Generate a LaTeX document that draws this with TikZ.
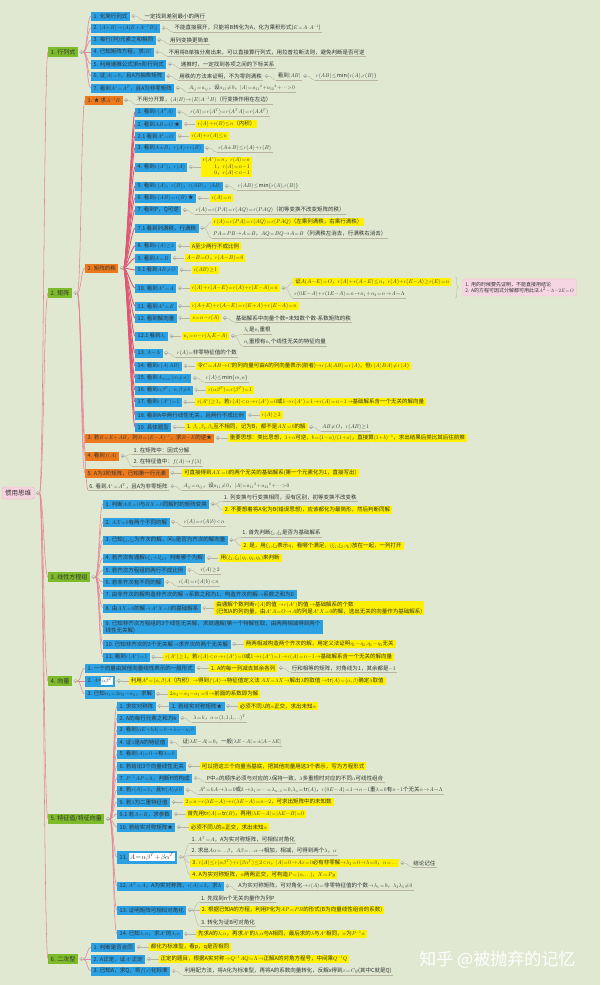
\documentclass[tikz,border=0pt]{standalone}
\usepackage{fontspec}
\setmainfont{Noto Sans CJK SC}
\usetikzlibrary{positioning,decorations.pathreplacing}
% math glyphs scaled from the 10pt designs, so small formulas stay narrow
\DeclareFontShape{OT1}{cmr}{m}{n}{<->cmr10}{}
\DeclareFontShape{OML}{cmm}{m}{it}{<->cmmi10}{}
\DeclareFontShape{OMS}{cmsy}{m}{n}{<->cmsy10}{}

\definecolor{bg}{HTML}{E1E8D1}
\definecolor{rootpink}{HTML}{F7D3E0}
\definecolor{branchgreen}{HTML}{7DBB2A}
\definecolor{topicblue}{HTML}{2BA0E2}
\definecolor{topicorange}{HTML}{EC7A1C}
\definecolor{hlyellow}{HTML}{FFF100}
\definecolor{linkred}{HTML}{DE5876}
\definecolor{linkgray}{HTML}{B9B3A2}
\definecolor{notepink}{HTML}{F6D6E2}

\tikzset{
  every node/.style={anchor=west, inner sep=1.2pt, text=black!80, font=\fontsize{5.5}{6.5}\selectfont},
  rootbox/.style={fill=rootpink, draw=linkred!50, rounded corners=1.5pt, inner xsep=3pt, minimum height=12pt, font=\fontsize{6.5}{7.5}\selectfont},
  branchbox/.style={fill=branchgreen, inner xsep=2.5pt, minimum height=10pt, font=\fontsize{6}{7}\selectfont},
  bluebox/.style={fill=topicblue, inner xsep=2.5pt, minimum height=9pt},
  orangebox/.style={fill=topicorange, inner xsep=2.5pt, minimum height=9pt},
  hlbox/.style={fill=hlyellow, inner xsep=2pt, minimum height=8pt},
  leaf/.style={append after command={(\tikzlastnode.south west) edge[draw=linkgray, line width=0.35pt] (\tikzlastnode.south east)}},
  notebox/.style={fill=notepink, draw=linkred!35, rounded corners=3pt, align=left, inner sep=3pt, font=\fontsize{5}{6.5}\selectfont},
  toplink/.style={draw=linkred!75, line width=0.55pt},
  ranklink/.style={draw=linkred, line width=0.9pt},
  sublink/.style={draw=linkgray, line width=0.35pt},
}

\newcommand{\wbox}[1]{{\setlength{\fboxsep}{0.8pt}\colorbox{white}{#1}}}

\begin{document}
\thinmuskip=1mu
\medmuskip=1mu
\thickmuskip=1.5mu
\begin{tikzpicture}[x=1pt, y=-1pt]
\fill[bg] (0,0) rectangle (600,985);
\useasboundingbox (0,0) rectangle (600,985);

% root and branches
\node[rootbox] (root) at (2,493) {惯用思维};
\node[branchbox] (det) at (48,52) {1. 行列式};
\node[branchbox] (mat) at (48,293) {2. 矩阵};
\node[branchbox] (lin) at (48,577) {3. 线性方程组};
\node[branchbox] (vec) at (48,681) {4. 向量};
\node[branchbox] (eig) at (48,819) {5. 特征值/特征向量};
\node[branchbox] (quad) at (48,959) {6. 二次型};

% 1. determinant
\node[bluebox] (det1) at (91,16) {1. 化简行列式};
\node[leaf] (det1a) at ([xshift=13pt]det1.east) {一定找到差别最小的两行};
\node[bluebox] (det2) at (91,28) {2. $|A+B|\to|A(E+A^{-1}B)|$};
\node[leaf] (det2a) at ([xshift=13pt]det2.east) {不能直接展开，只能将B转化为A，化为乘积形式($E=A\cdot A^{-1}$)};
\node[bluebox] (det3) at (91,40) {3. 每行(列)元素之和相同};
\node[leaf] (det3a) at ([xshift=13pt]det3.east) {用列变换更简单};
\node[bluebox] (det4) at (91,52) {4. 已知矩阵方程，求$|B|$};
\node[leaf] (det4a) at ([xshift=13pt]det4.east) {不用将B单独分离出来，可以直接算行列式，用拉普拉斯法则，避免判断是否可逆};
\node[bluebox] (det5) at (91,64) {5. 利用递推公式求n阶行列式};
\node[leaf] (det5a) at ([xshift=13pt]det5.east) {递推时，一定找到各项之间的下标关系};
\node[bluebox] (det6) at (91,76) {6. 证$|A|=0$，且A为抽象矩阵};
\node[leaf] (det6a) at ([xshift=13pt]det6.east) {用秩的方法来证明，不为零则满秩};
\node[leaf] (det6b) at ([xshift=13pt]det6a.east) {看到$|AB|$};
\node[leaf] (det6c) at ([xshift=13pt]det6b.east) {$r(AB)\le\min\{r(A),r(B)\}$};
\node[bluebox] (det7) at (91,88) {7. 看到$A^*=A^T$，且A为非零矩阵};
\node[leaf] (det7a) at ([xshift=13pt]det7.east) {$A_{ij}=a_{ij}$，设$a_{11}\ne0$，$|A|={a_{11}}^2+{a_{12}}^2+\cdots>0$};

% 2. matrix
\node[orangebox] (mat1) at (85,100) {1. ★ 求$A^{-1}B$};
\node[leaf] (mat1a) at ([xshift=13pt]mat1.east) {不用分开算，$(A\,|\,B)\to(E\,|\,A^{-1}B)$（行变换作用在左边）};
\node[orangebox] (mat2) at (85,268) {2. 矩阵的秩};

\node[bluebox] (rk1) at (135,112) {1. 看到$r(A^TA)$};
\node[leaf] (rk1a) at ([xshift=13pt]rk1.east) {$r(A)=r(A^T)=r(A^TA)=r(AA^T)$};
\node[bluebox] (rk2) at (135,124) {2. 看到$AB=O$ ★};
\node[hlbox] (rk2a) at ([xshift=13pt]rk2.east) {$r(A)+r(B)\le n$（内积）};
\node[bluebox] (rk3) at (135,136) {2.1 看到$A^2=O$};
\node[hlbox] (rk3a) at ([xshift=13pt]rk3.east) {$r(A)+r(A)\le n$};
\node[bluebox] (rk4) at (135,148) {3. 看到$A\pm B$，$r(A)+r(B)$};
\node[leaf] (rk4a) at ([xshift=13pt]rk4.east) {$r(A\pm B)\le r(A)+r(B)$};
\node[bluebox] (rk5) at (135,167) {4. 看到$r(A^*)$，$r(A)$};
\node[hlbox, align=right] (rk5a) at ([xshift=13pt]rk5.east) {$r(A^*)=n$，$r(A)=n$\\$1$，$r(A)=n-1$\\$0$，$r(A)<n-1$};
\node[bluebox] (rk6) at (135,186) {5. 看到$r(A)$，$r(B)$，$r(AB)$，$|AB|$};
\node[leaf] (rk6a) at ([xshift=13pt]rk6.east) {$r(AB)\le\min\{r(A),r(B)\}$};
\node[bluebox] (rk7) at (135,198) {6. 看到$r(AB)=r(B)$ ★};
\node[hlbox] (rk7a) at ([xshift=13pt]rk7.east) {$r(A)=n$};
\node[bluebox] (rk8) at (135,210) {7. 看到P，Q可逆};
\node[leaf] (rk8a) at ([xshift=13pt]rk8.east) {$r(A)=r(PA)=r(AQ)=r(PAQ)$（初等变换不改变矩阵的秩）};
\node[bluebox] (rk9) at (135,228) {7.1 看到列满秩，行满秩};
\node[hlbox] (rk9a) at ([xshift=13pt,yshift=6pt]rk9.east) {$r(A)=r(PA)=r(AQ)=r(PAQ)$（左乘列满秩，右乘行满秩）};
\node[leaf] (rk9b) at ([xshift=13pt,yshift=-6pt]rk9.east) {$PA=PB\to A=B$，$AQ=BQ\to A=B$（列满秩左消去，行满秩右消去）};
\node[bluebox] (rk10) at (135,246) {8. 看到$r(A)\ge2$};
\node[hlbox] (rk10a) at ([xshift=13pt]rk10.east) {A至少两行不成比例};
\node[bluebox] (rk11) at (135,258) {9. 看到$A=B$};
\node[hlbox] (rk11a) at ([xshift=13pt]rk11.east) {$A-B=O$，$r(A-B)=0$};
\node[bluebox] (rk12) at (135,270) {9.1 看到$AB\ne O$};
\node[hlbox] (rk12a) at ([xshift=13pt]rk12.east) {$r(AB)\ge1$};
\node[bluebox] (rk13) at (135,288) {10. 看到$A^2=A$};
\node[hlbox] (rk13a) at ([xshift=13pt]rk13.east) {$r(A)+r(A-E)=r(A)+r(E-A)=n$};
\node[hlbox] (rk13b) at ([xshift=13pt,yshift=6pt]rk13a.east) {证$A(A-E)=O$，$r(A)+r(A-E)\le n$，$r(A)+r(E-A)\ge r(E)=n$};
\node[leaf] (rk13c) at ([xshift=13pt,yshift=-6pt]rk13a.east) {$r(0E-A)+r(1E-A)=n\to n_1+n_2=n\to A\sim\Lambda$};
\coordinate (bracetop) at ([xshift=4pt,yshift=1pt]rk13b.north east);
\coordinate (bracebot) at (bracetop |- rk13c.south);
\path (bracetop) -- (bracebot) coordinate[midway] (bracemid);
\node[notebox] (rknote) at ([xshift=7pt]bracemid) {1. 用的时候要先证明，不能直接用结论\\2. A的方程可因式分解都可用此法$A^2-A-2E=O$};
\node[bluebox] (rk14) at (135,306) {11. 看到$A^2=E$};
\node[hlbox] (rk14a) at ([xshift=13pt]rk14.east) {$r(A+E)+r(A-E)=r(E+A)+r(E-A)=n$};
\node[bluebox] (rk15) at (135,318) {12. 看到解向量};
\node[hlbox] (rk15a) at ([xshift=13pt]rk15.east) {$s=n-r(A)$};
\node[leaf] (rk15b) at ([xshift=13pt]rk15a.east) {基础解系中向量个数=未知数个数-系数矩阵的秩};
\node[bluebox] (rk16) at (135,336) {12.1 看到$\lambda_i$};
\node[hlbox] (rk16a) at ([xshift=13pt]rk16.east) {$n_i=n-r(\lambda_iE-A)$};
\node[leaf] (rk16b) at ([xshift=13pt,yshift=6pt]rk16a.east) {$\lambda_i$是$n_i$重根};
\node[leaf] (rk16c) at ([xshift=13pt,yshift=-6pt]rk16a.east) {$n_i$重根有$n_i$个线性无关的特征向量};
\node[bluebox] (rk17) at (135,353) {13. $A\sim\Lambda$};
\node[leaf] (rk17a) at ([xshift=13pt]rk17.east) {$r(A)=$非零特征值的个数};
\node[bluebox] (rk18) at (135,366) {14. 看到$r(A\,|\,AB)$};
\node[hlbox] (rk18a) at ([xshift=13pt]rk18.east) {令$C=AB\to C$的列向量可由A的列向量表示(前者)$\to r(A\,|\,AB)=r(A)$，但$r(A\,|\,BA)\ne r(A)$};
\node[bluebox] (rk19) at (135,378) {15. 看到$A_{m\times n}(m\ne n)$};
\node[leaf] (rk19a) at ([xshift=13pt]rk19.east) {$r(A)\le\min\{m,n\}$};
\node[bluebox] (rk20) at (135,390) {16. 看到$\alpha\beta^T$，$\alpha,\beta\ne0$};
\node[hlbox] (rk20a) at ([xshift=13pt]rk20.east) {$r(\alpha\beta^T)=r(\beta^T)=1$};
\node[bluebox] (rk21) at (135,402) {17. 看到$r(A^*)=1$};
\node[hlbox] (rk21a) at ([xshift=13pt]rk21.east) {$r(A^*)\ge1$，若$r(A)<n\to r(A^*)=0$或$1\to r(A^*)=1\to r(A)=n-1\to$基础解系含一个无关的解向量};
\node[bluebox] (rk22) at (135,415) {18. 看到A中两行线性无关，且两行不成比例};
\node[hlbox] (rk22a) at ([xshift=13pt]rk22.east) {$r(A)\ge2$};
\node[bluebox] (rk23) at (135,427) {19. 具体题型};
\node[hlbox] (rk23a) at ([xshift=13pt]rk23.east) {1. $\beta_1,\beta_2,\beta_3$互不相同，记为B，都不是$AX=0$的解};
\node[leaf] (rk23b) at ([xshift=13pt]rk23a.east) {$AB\ne O$，$r(AB)\ge1$};

\node[orangebox] (mat3) at (85,438) {3. 若$B=E+AB$，则$B=(E-A)^{-1}$，求$B-E$的逆★};
\node[hlbox] (mat3a) at ([xshift=13pt]mat3.east) {重要思想：类比思想，$1+a$可逆，$b=(1-a)/(1+a)$，直接算$(1+b)^{-1}$，求出结果后类比其后往前推};
\node[orangebox] (mat4) at (85,456) {4. 看到$f(A)$};
\node[leaf] (mat4a) at ([xshift=13pt,yshift=6pt]mat4.east) {1. 在矩阵中：因式分解};
\node[leaf] (mat4b) at ([xshift=13pt,yshift=-6pt]mat4.east) {2. 在特征值中：$f(A)\to f(\lambda)$};
\node[orangebox] (mat5) at (85,473) {5. A为3阶矩阵，已知第一行元素};
\node[hlbox] (mat5a) at ([xshift=13pt]mat5.east) {可直接得到$AX=0$的两个无关的基础解系(第一个元素化为1，直接写出)};
\node[leaf] (mat6) at (88,486) {6. 看到$A^*=A^T$，且A为非零矩阵};
\node[leaf] (mat6a) at ([xshift=13pt]mat6.east) {$A_{ij}=a_{ij}$，设$a_{11}\ne0$，$|A|={a_{11}}^2+{a_{12}}^2+\cdots>0$};

% 3. linear systems
\node[bluebox] (lin1) at (103,504) {1. 判断$AX=0$与$BX=0$同解时的矩阵变换};
\node[leaf] (lin1a) at ([xshift=13pt,yshift=7pt]lin1.east) {1. 列变换与行变换相同，没有区别，初等变换不改变秩};
\node[hlbox] (lin1b) at ([xshift=13pt,yshift=-6pt]lin1.east) {2. 不要想着将A化为B(错误思想)，应该都化为最简形，然后判断同解};
\node[bluebox] (lin2) at (103,522) {2. $AX=b$有两个不同的解};
\node[leaf] (lin2a) at ([xshift=13pt]lin2.east) {$r(A)=r(A\,|\,b)<n$};
\node[bluebox] (lin3) at (103,540) {3. 已知$\xi_1,\xi_2$为齐次的解，问$\eta$是否为齐次的解向量};
\node[leaf] (lin3a) at ([xshift=13pt,yshift=7pt]lin3.east) {1. 首先判断$\xi_1,\xi_2$是否为基础解系};
\node[hlbox] (lin3b) at ([xshift=13pt,yshift=-6pt]lin3.east) {2. 是，用$\xi_1,\xi_2$表示$\eta$，看哪个满足，$(\xi_1,\xi_2,\eta_i)$放在一起，一列打开};
\node[bluebox] (lin4) at (103,558) {4. 若齐次有通解$k\xi_1+l\xi_2$，判断哪个为解};
\node[hlbox] (lin4a) at ([xshift=13pt]lin4.east) {用$(\xi_1,\xi_2\,|\,\eta_1,\eta_2,\eta_3)$来判断};
\node[bluebox] (lin5) at (103,570) {5. 若齐次方程组的两行不成比例};
\node[leaf] (lin5a) at ([xshift=13pt]lin5.east) {$r(A)\ge2$};
\node[bluebox] (lin6) at (103,582) {6. 若非齐次有不同的解};
\node[leaf] (lin6a) at ([xshift=13pt]lin6.east) {$r(A)=r(A\,|\,b)<n$};
\node[bluebox] (lin7) at (103,594) {7. 由非齐次的解构造非齐次的解$\to$系数之和为1，构造齐次的解$\to$系数之和为0};
\node[bluebox] (lin8) at (103,608) {8. 由$AX=0$的解$\to A^*X=0$的基础解系};
\node[hlbox, align=left] (lin8a) at ([xshift=13pt]lin8.east) {由通解个数判断$r(A)$的值 $\to r(A^*)$的值 $\to$基础解系的个数\\(已知A的列向量，由$A^*A=O\to A$的列是$A^*X=0$的解，选出无关的向量作为基础解系)};
\node[bluebox, align=left] (lin9) at (103,627) {9. 已知非齐次方程组的3个线性无关解，求其通解(第一个特解任取，由两两相减得到两个\\线性无关解)};
\node[bluebox] (lin10) at (103,644) {10. 已知非齐次的3个无关解$\to$求齐次的两个无关解};
\node[hlbox] (lin10a) at ([xshift=13pt]lin10.east) {两两相减构造两个齐次的解，用定义法证明$\eta_1-\eta_2,\eta_1-\eta_3$无关};
\node[bluebox] (lin11) at (103,657) {11. 看到$r(A^*)=1$};
\node[hlbox] (lin11a) at ([xshift=13pt]lin11.east) {$r(A^*)\ge1$，若$r(A)<n\to r(A^*)=0$或$1\to r(A^*)=1\to r(A)=n-1\to$基础解系含一个无关的解向量};

% 4. vectors
\node[bluebox] (vec1) at (85,668) {1. 一个向量由其他向量线性表示的一般形式};
\node[hlbox] (vec1a) at ([xshift=13pt]vec1.east) {1. A的每一列减去其余各列};
\node[leaf] (vec1b) at ([xshift=13pt]vec1a.east) {行和相等的矩阵，对角线为1，其余都是$-1$};
\node[bluebox, minimum height=11pt] (vec2) at (85,681) {2. $A$=\wbox{$\alpha\beta^T$}};
\node[hlbox] (vec2a) at ([xshift=13pt]vec2.east) {利用$A^2=(\alpha,\beta)A$（内积）$\to$得到$f(A)\to$特征值定义法 $AX=\lambda X\to$解出$\lambda$的取值 $\to\mathrm{tr}(A)=(\alpha,\beta)$确定$\lambda$取值};
\node[bluebox] (vec3) at (85,694) {3. 已知$\alpha_1=2\alpha_2-\alpha_3$，求解};
\node[hlbox] (vec3a) at ([xshift=13pt]vec3.east) {$2\alpha_2-\alpha_3-\alpha_1=0\to$前面的系数即为解};

% 5. eigenvalues
\node[bluebox] (eig1) at (117,706) {1. 求实对称阵};
\node[bluebox] (eig1a) at ([xshift=13pt]eig1.east) {1. 若给实对称矩阵★};
\node[hlbox] (eig1b) at ([xshift=13pt]eig1a.east) {必须不同$\lambda$的$\alpha$正交，求出未知$\alpha$};
\node[bluebox] (eig2) at (117,718) {2. A的每行元素之和为k};
\node[leaf] (eig2a) at ([xshift=13pt]eig2.east) {$\lambda=k$，$\alpha=(1,1,1,\ldots)^T$};
\node[bluebox] (eig3) at (117,730) {3. 看到$|aE+bA|=0\to\lambda=-a/b$};
\node[bluebox] (eig4) at (117,742) {4. 证$\lambda$是A的特征值};
\node[leaf] (eig4a) at ([xshift=13pt]eig4.east) {证$|\lambda E-A|=0$，一般$|\lambda E-A|=\pm|A-\lambda E|$};
\node[bluebox] (eig5) at (117,754) {5. 看到$|A|=0\to$有$\lambda=0$};
\node[bluebox] (eig6) at (117,766) {6. 若给出3个向量线性无关};
\node[hlbox] (eig6a) at ([xshift=13pt]eig6.east) {可以把这三个向量当基底，把其他向量用这3个表示，写为方程形式};
\node[bluebox] (eig7) at (117,778) {7. $P^{-1}AP=\Lambda$，判断P的构成};
\node[leaf] (eig7a) at ([xshift=13pt]eig7.east) {P中$\alpha$的顺序必须与对应的$\lambda$保持一致，$\lambda$多重根时对应的不同$\alpha$可线性组合};
\node[bluebox] (eig8) at (117,790) {8. 若$r(A)=1$，且$\mathrm{tr}(A)\ne0$};
\node[leaf] (eig8a) at ([xshift=13pt]eig8.east) {$A^2=kA\to\lambda=0$或$k\to\lambda_1=\cdots=\lambda_{n-1}=0,\lambda_n=\mathrm{tr}(A)$，$r(0E-A)=1\to n-1$重$\lambda=0$有$n-1$个无关$\alpha\to A\sim\Lambda$};
\node[bluebox] (eig9) at (117,802) {9. 若$\lambda$为二重特征值};
\node[hlbox] (eig9a) at ([xshift=13pt]eig9.east) {$2=n-r(\lambda E-A)\to r(\lambda E-A)=n-2$，可求出矩阵中的未知数};
\node[bluebox] (eig10) at (117,814) {9.1 若$A\sim B$，求参数};
\node[hlbox] (eig10a) at ([xshift=13pt]eig10.east) {首先用$\mathrm{tr}(A)=\mathrm{tr}(B)$，再用$|\lambda E-A|=|\lambda E-B|=0$};
\node[bluebox] (eig11) at (117,827) {10. 若给实对称矩阵★};
\node[hlbox] (eig11a) at ([xshift=13pt]eig11.east) {必须不同$\lambda$的$\alpha$正交，求出未知$\alpha$};
\node[bluebox, minimum height=13pt] (eig12) at (117,857) {11. \wbox{\fontsize{7}{8}\selectfont$A=\alpha\beta^T+\beta\alpha^T$}};
\node[leaf] (eig12a) at ([xshift=13pt,yshift=18pt]eig12.east) {1. $A^T=A$，A为实对称矩阵，可相似对角化};
\node[leaf] (eig12b) at ([xshift=13pt,yshift=6pt]eig12.east) {2. 求出$A\alpha=\ldots\beta$，$A\beta=\ldots\alpha\to$相加，相减，可得到两个$\lambda$，$\alpha$};
\node[hlbox] (eig12c) at ([xshift=13pt,yshift=-6pt]eig12.east) {3. $r(A)\le r(\alpha\beta^T)+r(\beta\alpha^T)\le2<n$，$|A|=0\to Ax=0$必有非零解$\to\lambda_3=0\to\lambda=0$，$\alpha=\ldots$};
\node[leaf] (eig12e) at ([xshift=13pt]eig12c.east) {结论记住};
\node[hlbox] (eig12d) at ([xshift=13pt,yshift=-18pt]eig12.east) {4. A为实对称矩阵，$\alpha$两两正交，可构造$P=(\alpha,\ldots)$，$X=Py$};
\node[bluebox] (eig13) at (117,886) {12. $A^T=A$，A为实对称阵，$r(A)=2$，求$\Lambda$};
\node[leaf] (eig13a) at ([xshift=13pt]eig13.east) {A为实对称矩阵，可对角化$\to r(A)=$非零特征值的个数$\to\lambda_1=0$，$\lambda_2\lambda_3\ne0$};
\node[bluebox] (eig14) at (117,910) {13. 证明矩阵可相似对角化};
\node[leaf] (eig14a) at ([xshift=13pt,yshift=12pt]eig14.east) {1. 先找到n个无关向量作为列P};
\node[hlbox] (eig14b) at ([xshift=13pt]eig14.east) {2. 根据已知A的方程，利用P化为$AP=PB$的形式(B为向量线性组合的系数)};
\node[leaf] (eig14c) at ([xshift=13pt,yshift=-12pt]eig14.east) {3. 转化为证B可对角化};
\node[bluebox] (eig15) at (117,934) {14. 已知$\lambda,\alpha$，求$A^*$的$\lambda,\alpha$};
\node[hlbox] (eig15a) at ([xshift=13pt]eig15.east) {先求A的$\lambda,\alpha$，再求$A^*$的$\lambda,\alpha$与A相同，最后求的$\lambda$与$A^*$相同，$\alpha$为$P^{-1}\alpha$};

% 6. quadratic forms
\node[bluebox] (quad1) at (91,947) {1. 判断是否合同};
\node[hlbox] (quad1a) at ([xshift=13pt]quad1.east) {都化为标准型，看p，q是否相同};
\node[bluebox] (quad2) at (91,959) {2. A正定，证$A^*$正定};
\node[hlbox] (quad2a) at ([xshift=13pt]quad2.east) {正定的题目，根据A实对称$\to Q^{-1}AQ=\Lambda\to$正解A的对角方程号，中间乘$Q^{-1}Q$};
\node[bluebox] (quad3) at (91,971) {3. 已知A，求Q，将$f(x)$化标准};
\node[leaf] (quad3a) at ([xshift=13pt]quad3.east) {利用配方法，将A化为标准型，再将A的系数向量转化，反解x得到$x=Cy$(其中C就是Q)};

% connectors
\foreach \p/\c in {root/det,root/mat,root/lin,root/vec,root/eig,root/quad,
    det/det1,det/det2,det/det3,det/det4,det/det5,det/det6,det/det7,
    mat/mat1,mat/mat2,mat/mat3,mat/mat4,mat/mat5,
    lin/lin1,lin/lin2,lin/lin3,lin/lin4,lin/lin5,lin/lin6,lin/lin7,lin/lin8,lin/lin9,lin/lin10,lin/lin11,
    vec/vec1,vec/vec2,vec/vec3,
    eig/eig1,eig/eig2,eig/eig3,eig/eig4,eig/eig5,eig/eig6,eig/eig7,eig/eig8,eig/eig9,eig/eig10,eig/eig11,eig/eig12,eig/eig13,eig/eig14,eig/eig15,
    quad/quad1,quad/quad2,quad/quad3}
  \draw[toplink] ([xshift=5.1pt]\p.east) .. controls +(4,0) and +(-4,0) .. (\c.west);
\draw[toplink] ([xshift=5.1pt]mat.east) .. controls +(4,0) and +(-4,0) .. (mat6.south west);
\foreach \i in {1,...,23}
  \draw[ranklink] ([xshift=5.1pt]mat2.east) .. controls +(3,0) and +(-3,0) .. (rk\i.west);
\foreach \p/\c in {rk2/rk2a,rk3/rk3a,rk5/rk5a,rk7/rk7a,rk9/rk9a,rk10/rk10a,rk11/rk11a,rk12/rk12a,
    rk13/rk13a,rk13a/rk13b,rk14/rk14a,rk15/rk15a,rk16/rk16a,rk18/rk18a,rk20/rk20a,rk21/rk21a,rk22/rk22a,rk23/rk23a,
    mat3/mat3a,mat5/mat5a,lin1/lin1b,lin3/lin3b,lin4/lin4a,lin8/lin8a,lin10/lin10a,lin11/lin11a,
    vec1/vec1a,vec2/vec2a,vec3/vec3a,eig1/eig1a,eig1a/eig1b,eig6/eig6a,eig9/eig9a,eig10/eig10a,eig11/eig11a,
    eig12/eig12c,eig12/eig12d,eig14/eig14b,eig15/eig15a,quad1/quad1a,quad2/quad2a}
  \draw[sublink] ([xshift=5.1pt]\p.east) .. controls +(4,0) and +(-4,0) .. (\c.west);
\foreach \p/\c in {det1/det1a,det2/det2a,det3/det3a,det4/det4a,det5/det5a,det6/det6a,det6a/det6b,det6b/det6c,det7/det7a,
    mat1/mat1a,rk1/rk1a,rk4/rk4a,rk6/rk6a,rk8/rk8a,rk9/rk9b,rk13a/rk13c,rk15a/rk15b,rk16a/rk16b,rk16a/rk16c,
    rk17/rk17a,rk19/rk19a,rk23a/rk23b,mat4/mat4a,mat4/mat4b,mat6/mat6a,
    lin1/lin1a,lin2/lin2a,lin3/lin3a,lin5/lin5a,lin6/lin6a,vec1a/vec1b,
    eig2/eig2a,eig4/eig4a,eig7/eig7a,eig8/eig8a,eig12/eig12a,eig12/eig12b,eig12c/eig12e,eig13/eig13a,
    eig14/eig14a,eig14/eig14c,quad3/quad3a}
  \draw[sublink] ([xshift=5.1pt]\p.east) .. controls +(4,0) and +(-4,0) .. (\c.south west);

% brace to the note
\draw[linkgray, line width=0.4pt, decorate, decoration={brace, amplitude=3pt}] (bracetop) -- (bracebot);

% fold markers
\foreach \p in {root,det,mat,lin,vec,eig,quad,det1,det2,det3,det4,det5,det6,det6a,det6b,det7,
    mat1,mat2,mat3,mat4,mat5,mat6,rk1,rk2,rk3,rk4,rk5,rk6,rk7,rk8,rk9,rk10,rk11,rk12,rk13,rk13a,rk14,rk15,rk15a,
    rk16,rk16a,rk17,rk18,rk19,rk20,rk21,rk22,rk23,rk23a,lin1,lin2,lin3,lin4,lin5,lin6,lin8,lin10,lin11,
    vec1,vec1a,vec2,vec3,eig1,eig1a,eig2,eig4,eig6,eig7,eig8,eig9,eig10,eig11,eig12,eig12c,eig13,eig14,eig15,
    quad1,quad2,quad3} {
  \draw[draw=gray!70, fill=bg, line width=0.3pt] ([xshift=3.3pt]\p.east) circle (1.8pt);
  \draw[draw=gray!70, line width=0.3pt] ([xshift=2.4pt]\p.east) -- ([xshift=4.2pt]\p.east);
}

% watermark
\node[text=white, font=\fontsize{17}{19}\selectfont] (mark) at (418,960) {知乎 @被抛弃的记忆};
\end{tikzpicture}
\end{document}
